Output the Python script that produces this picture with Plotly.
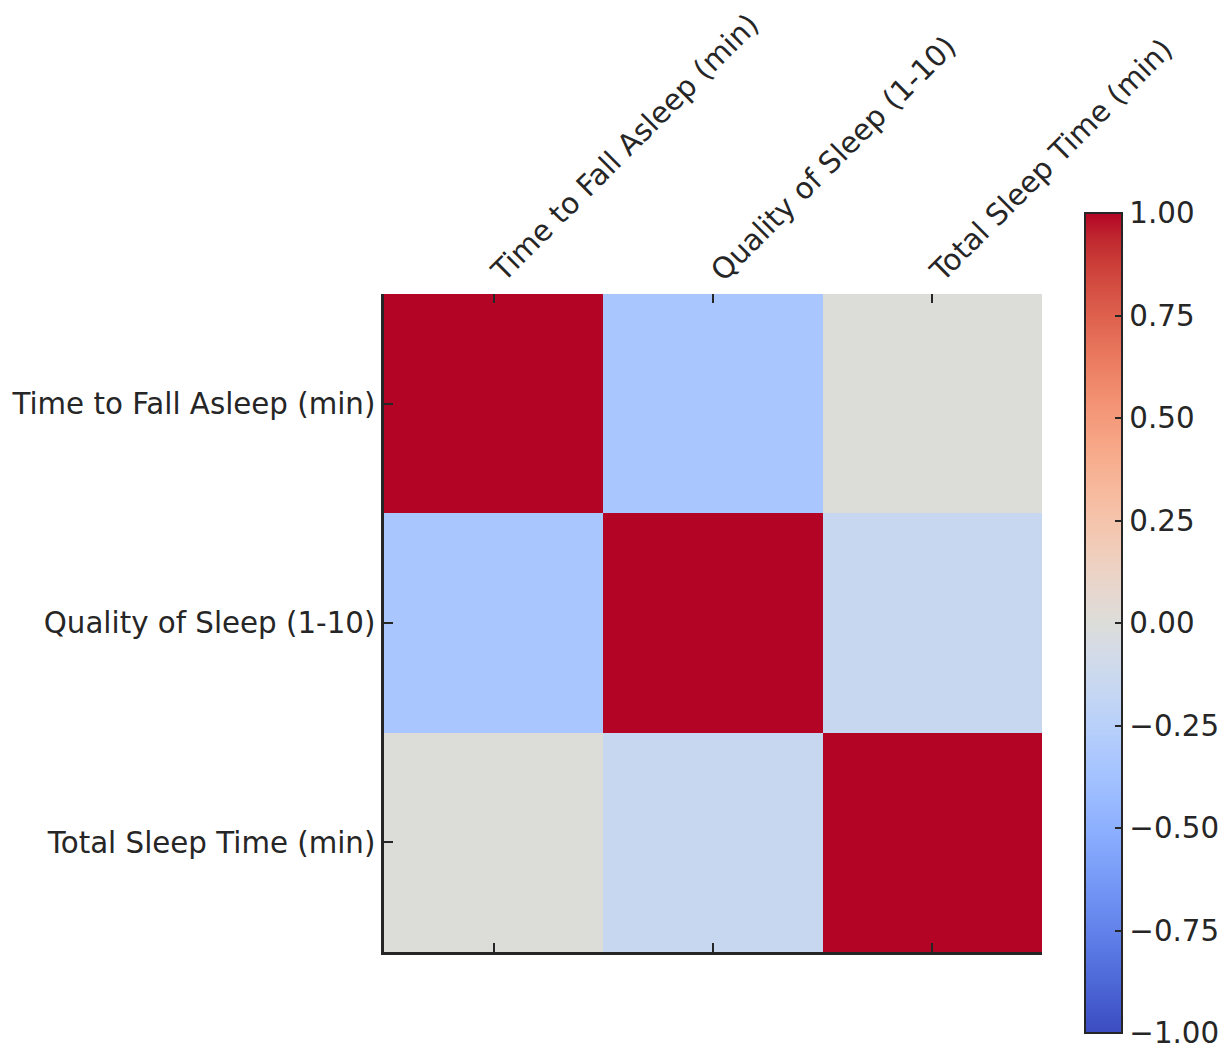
import plotly.graph_objects as go

# Correlation matrix of the sleep variables
variables = ["Time to Fall Asleep (min)", "Quality of Sleep (1-10)", "Total Sleep Time (min)"]
row_falling_asleep = [1.00, -0.34, 0.00]
row_quality = [-0.34, 1.00, -0.15]
row_total_time = [0.00, -0.15, 1.00]
corr = [row_falling_asleep, row_quality, row_total_time]

colorbar_ticks = [-1.0, -0.75, -0.5, -0.25, 0.0, 0.25, 0.5, 0.75, 1.0]

# Diverging "coolwarm" palette
coolwarm_rgb = [
    (59, 76, 192), (68, 90, 204), (77, 104, 215), (87, 117, 225), (98, 130, 234),
    (108, 142, 241), (119, 154, 247), (130, 165, 251), (141, 176, 254), (152, 185, 255),
    (163, 194, 255), (174, 201, 253), (184, 208, 249), (194, 213, 244), (204, 217, 238),
    (213, 219, 230), (220, 221, 217), (229, 216, 209), (236, 211, 197), (241, 204, 184),
    (245, 196, 172), (247, 187, 159), (247, 177, 147), (247, 166, 134), (244, 154, 123),
    (241, 141, 111), (236, 127, 99), (229, 112, 89), (222, 96, 77), (213, 80, 67),
    (203, 62, 56), (192, 40, 47), (180, 4, 38),
]
n = len(coolwarm_rgb) - 1
coolwarm = [[i / n, "rgb(%d,%d,%d)" % c] for i, c in enumerate(coolwarm_rgb)]

ink = "#262626"
font = dict(family="DejaVu Sans", size=29.3, color=ink)
idx = list(range(len(variables)))

# Figure geometry: square heatmap area, colorbar to its right
W, H = 1231, 1047
ML, MR, MT, MB = 384, 189, 294, 95
plot_w = W - ML - MR

fig = go.Figure()
fig.add_trace(go.Heatmap(
    z=corr, x=idx, y=idx,
    colorscale=coolwarm, zmin=-1, zmax=1,
    xgap=0, ygap=0,
    colorbar=dict(
        thickness=37, thicknessmode="pixels",
        len=820, lenmode="pixels",
        x=(1085 - ML) / plot_w, xanchor="left", y=0.5, yanchor="middle",
        xpad=0, ypad=0,
        outlinewidth=2, outlinecolor=ink,
        tickvals=colorbar_ticks, tickformat=".2f",
        ticks="inside", ticklen=8, tickwidth=2, tickcolor=ink,
        ticklabeloverflow="allow",
        tickfont=font,
    ),
))
# Invisible helper trace so the bottom x axis gets drawn
fig.add_trace(go.Scatter(
    x=idx, y=idx, xaxis="x2", yaxis="y", mode="markers",
    marker=dict(opacity=0), hoverinfo="skip", showlegend=False,
))

fig.update_layout(
    width=W, height=H,
    margin=dict(l=ML, r=MR, t=MT, b=MB, autoexpand=False),
    paper_bgcolor="white", plot_bgcolor="white",
    font=font,
    showlegend=False,
    xaxis=dict(
        side="top", range=[-0.5, 2.5],
        tickvals=idx, ticktext=variables, tickangle=-45,
        ticks="inside", ticklen=9, tickwidth=2, tickcolor=ink,
        showline=False, showgrid=False, zeroline=False,
        tickfont=font,
    ),
    xaxis2=dict(
        overlaying="x", side="bottom", range=[-0.5, 2.5],
        tickvals=idx, showticklabels=False,
        ticks="inside", ticklen=9, tickwidth=2, tickcolor=ink,
        showline=True, linewidth=2.5, linecolor=ink,
        showgrid=False, zeroline=False,
    ),
    yaxis=dict(
        range=[2.5, -0.5],
        tickvals=idx, ticktext=variables,
        ticks="inside", ticklen=9, tickwidth=2, tickcolor=ink,
        showline=True, linewidth=2.5, linecolor=ink,
        showgrid=False, zeroline=False,
        ticklabelstandoff=0,
        tickfont=font,
    ),
)

fig.write_html("out.html")
